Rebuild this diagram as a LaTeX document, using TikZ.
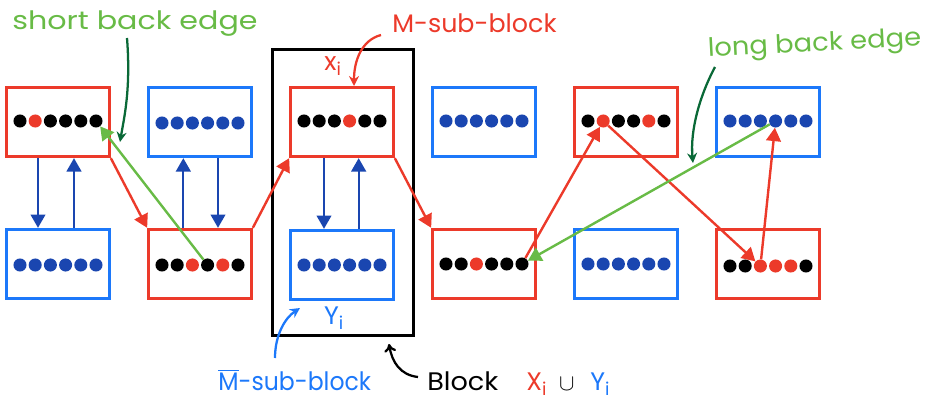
\documentclass[tikz,border=0pt]{standalone}
\usepackage{fontspec}
\setmainfont{Poppins}
\usetikzlibrary{arrows.meta}

\definecolor{xred}{RGB}{236,58,42}
\definecolor{yblue}{RGB}{28,120,250}
\definecolor{db}{RGB}{26,70,176}
\definecolor{lgreen}{RGB}{104,187,70}
\definecolor{dgreen}{RGB}{10,105,55}
\colorlet{dk}{black}
\colorlet{dr}{xred}

\tikzset{
	mbox/.style={draw=xred, line width=2.25pt, minimum width=77pt, minimum height=52pt},
	ybox/.style={draw=yblue, line width=2.25pt, minimum width=77pt, minimum height=52pt},
	dot/.style={circle, inner sep=0pt, minimum size=9.8pt},
	varrow/.style={db, line width=1.6pt, -{Triangle[length=10pt,width=11pt]}},
	redge/.style={xred, line width=1.8pt, -{Triangle[length=10pt,width=11pt]}},
	gedge/.style={lgreen, line width=1.8pt, -{Triangle[length=10pt,width=11pt]}},
	note/.style={line width=1.7pt, -{Stealth[length=7.5pt,width=7.5pt]}},
	lbl/.style={font=\fontsize{19}{22}\selectfont, inner sep=0pt}
}

\begin{document}
\begin{tikzpicture}[x=0.75pt,y=-0.75pt]
	\useasboundingbox (0,0) rectangle (935,410);
	% Boxes
	\foreach \n/\x/\y/\s in {t1/58/122/mbox, t2/200/122/ybox, t3/342/122/mbox, t4/484/122/ybox, t5/626/122/mbox, t6/768/122/ybox,
		b1/58/264/ybox, b2/200/264/mbox, b3/342/265/ybox, b4/484/264/mbox, b5/626/264/ybox, b6/768/264/mbox}
		\node[\s] (\n) at (\x,\y) {};
	% Dots
	\foreach \n/\x/\y/\cl in {t1/58/121/{dk,dr,dk,dk,dk,dk}, t2/200/123/{db,db,db,db,db,db}, t3/342/121/{dk,dk,dk,dr,dk,dk},
		t4/484/121/{db,db,db,db,db,db}, t5/626/121/{dk,dr,dk,dk,dr,dk}, t6/768/121/{db,db,db,db,db,db},
		b1/58/265/{db,db,db,db,db,db}, b2/200/265/{dk,dk,dr,dk,dr,dk}, b3/342/265/{db,db,db,db,db,db},
		b4/484/264/{dk,dk,dr,dk,dk,dk}, b5/626/264/{db,db,db,db,db,db}, b6/768/266/{dk,dk,dr,dr,dr,dk}}
		\foreach \d [count=\i] in \cl
			\node[dot, fill=\d] (\n-\i) at ({\x+(\i-3.5)*15.2},\y) {};
	% Block
	\draw[line width=2.25pt] (272,50) rectangle (413,335);
	\node[lbl, text=xred] (xi) at (333,66) {x\textsubscript{i}};
	\node[lbl, text=yblue] (yi) at (334,318) {Y\textsubscript{i}};
	% Up and down
	\draw[varrow] ([xshift=-15pt]t1.south) -- ([xshift=-15pt]b1.north);
	\draw[varrow] ([xshift=12pt]b1.north) -- ([xshift=12pt]t1.south);
	\draw[varrow] ([xshift=-12.5pt]b2.north) -- ([xshift=-12.5pt]t2.south);
	\draw[varrow] ([xshift=13.5pt]t2.south) -- ([xshift=13.5pt]b2.north);
	\draw[varrow] ([xshift=-13.5pt]t3.south) -- ([xshift=-13.5pt]b3.north);
	\draw[varrow] ([xshift=12.5pt]b3.north) -- ([xshift=12.5pt]t3.south);
	% Red edges
	\draw[redge] (t1.south east) -- (b2.north west);
	\draw[redge] (b2.north east) -- (t3.south west);
	\draw[redge] (t3.south east) -- (b4.north west);
	\draw[redge] (b4-6) -- (t5-2);
	\draw[redge] (t5-2) -- (b6-3);
	\draw[redge] (b6-3) -- (t6-4);
	% Back edges
	\draw[gedge] (b2-4) -- (t1-6);
	\draw[gedge] (t6-4) -- (b4-6);
	% Labels
	\node[lbl, text=lgreen, anchor=base west] (sbe) at (12,30) {\scalebox{1.19}[1]{short back edge}};
	\coordinate (sbe-a) at (127,38);
	\coordinate (sbe-b) at (120,142);
	\draw[note, dgreen] (sbe-a) .. controls (131,90) and (124,118) .. (sbe-b);
	\node[lbl, text=lgreen, anchor=base west, rotate=3] (lbe) at (708,57) {\scalebox{1.08}[1]{long back edge}};
	\coordinate (lbe-a) at (715,67);
	\coordinate (lbe-b) at (693,163);
	\draw[note, dgreen] (lbe-a) .. controls (700,95) and (690,130) .. (lbe-b);
	\node[lbl, text=xred, anchor=base west] (msb) at (392,33) {M-sub-block};
	\coordinate (msb-a) at (381,35);
	\coordinate (msb-b) at (354,86);
	\draw[note, xred] (msb-a) .. controls (362,40) and (354,60) .. (msb-b);
	\node[lbl, text=yblue, anchor=base west] (nsb) at (218,390) {\scalebox{0.93}[1]{$\overline{\mbox{M}}$-sub-block}};
	\coordinate (nsb-a) at (275,358);
	\coordinate (nsb-b) at (300,308);
	\draw[note, yblue] (nsb-a) .. controls (275,335) and (285,318) .. (nsb-b);
	\node[lbl, anchor=base west] (blk) at (427,390) {\scalebox{1.07}[1]{Block}\hspace{21pt}\textcolor{xred}{X\textsubscript{i}}\hspace{9pt}$\cup$\hspace{12pt}\textcolor{yblue}{Y\textsubscript{i}}};
	\coordinate (blk-a) at (418,377);
	\coordinate (blk-b) at (389,344);
	\draw[note, -{To[length=6pt,width=9pt]}] (blk-a) .. controls (400,375) and (392,362) .. (blk-b);
\end{tikzpicture}
\end{document}
